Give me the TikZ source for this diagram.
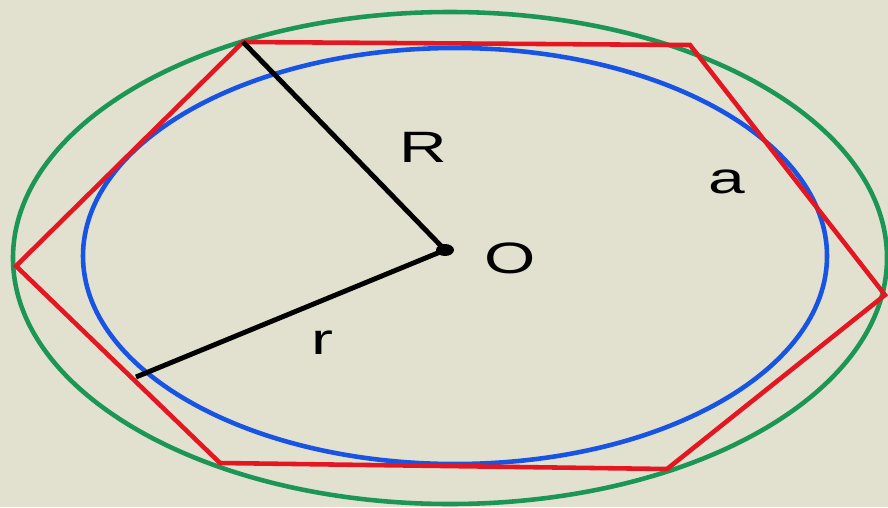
\documentclass[tikz,border=0pt]{standalone}
\usepackage{fontspec}
\setmainfont{Liberation Sans}
\definecolor{bgbeige}{RGB}{226,225,208}
\definecolor{hexred}{RGB}{228,22,34}
\definecolor{incblue}{RGB}{24,84,228}
\definecolor{circgreen}{RGB}{28,150,84}
\begin{document}
\begin{tikzpicture}[x=0.02cm, y=-0.02cm]
\tikzset{
    GE/.style={draw=circgreen, line width=2.6pt},
    BE/.style={draw=incblue, line width=2.6pt},
    HX/.style={draw=hexred, line width=2.6pt, line join=miter},
    RL/.style={draw=black, line width=2.8pt},
    LBL/.style={font=\fontsize{25}{30}\selectfont, anchor=base, xscale=1.5, inner sep=0pt},
}

% Background
\fill[bgbeige] (0,0) rectangle (888,507);
\useasboundingbox (0,0) rectangle (888,507);

% Circumscribed and inscribed ellipses
\draw[GE] (450,258) ellipse [x radius=437, y radius=246];
\draw[BE] (455,256) ellipse [x radius=372, y radius=208];

% Hexagon corners
\coordinate (hA) at (243,42);
\coordinate (hB) at (690,45);
\coordinate (hC) at (885,295);
\coordinate (hD) at (667,469);
\coordinate (hE) at (220,463);
\coordinate (hF) at (16,266);
\draw[HX] (hA) -- (hB) -- (hC) -- (hD) -- (hE) -- (hF) -- cycle;

% Centre and radii
\coordinate (ctr) at (445,250);
\coordinate (tp) at (136,377);
\draw[RL] (ctr) -- (hA);
\draw[RL] (ctr) -- (tp);
\fill[black] (ctr) ellipse [x radius=9, y radius=6];

% Labels
\node[LBL] (lR) at (423,162) {R};
\node[LBL] (lO) at (510,273) {O};
\node[LBL] (la) at (727,193) {a};
\node[LBL] (lr) at (322,354) {r};

\end{tikzpicture}
\end{document}
